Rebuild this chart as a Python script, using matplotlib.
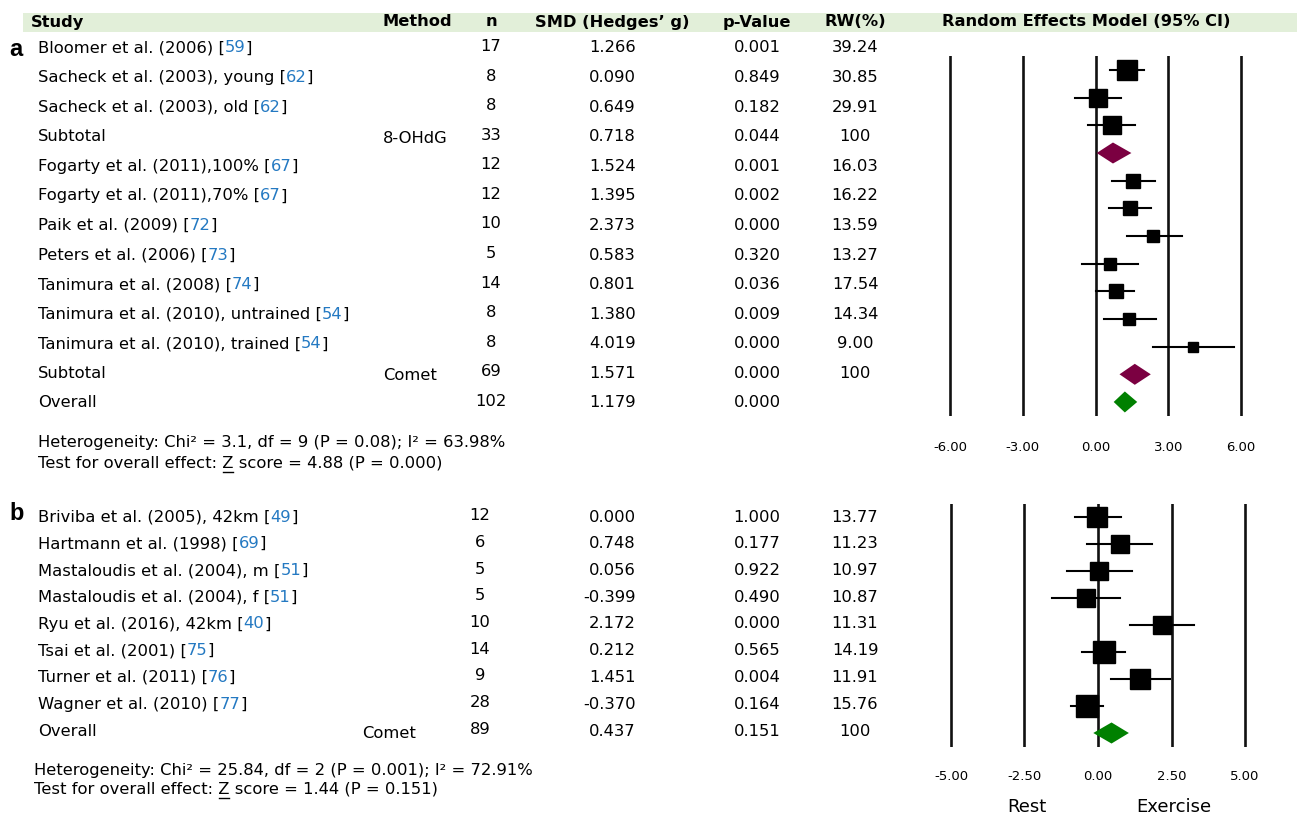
import matplotlib
matplotlib.use("Agg")
import matplotlib.pyplot as plt
from matplotlib.patches import Polygon
import numpy as np

W, H, DPI = 1297, 816, 100

# ---- panel a: 8-OHdG and Comet ----
studies_a = ["Bloomer et al. (2006)", "Sacheck et al. (2003), young", "Sacheck et al. (2003), old",
             "Subtotal", "Fogarty et al. (2011),100%", "Fogarty et al. (2011),70%", "Paik et al. (2009)",
             "Peters et al. (2006)", "Tanimura et al. (2008)", "Tanimura et al. (2010), untrained",
             "Tanimura et al. (2010), trained", "Subtotal", "Overall"]
refs_a = ["59", "62", "62", None, "67", "67", "72", "73", "74", "54", "54", None, None]
method_a = ["", "", "", "8-OHdG", "", "", "", "", "", "", "", "Comet", ""]
n_a = [17, 8, 8, 33, 12, 12, 10, 5, 14, 8, 8, 69, 102]
smd_a = ["1.266", "0.090", "0.649", "0.718", "1.524", "1.395", "2.373", "0.583", "0.801",
         "1.380", "4.019", "1.571", "1.179"]
p_a = ["0.001", "0.849", "0.182", "0.044", "0.001", "0.002", "0.000", "0.320", "0.036",
       "0.009", "0.000", "0.000", "0.000"]
rw_a = ["39.24", "30.85", "29.91", "100", "16.03", "16.22", "13.59", "13.27", "17.54",
        "14.34", "9.00", "100", ""]
kind_a = ["s", "s", "s", "sub", "s", "s", "s", "s", "s", "s", "s", "sub", "all"]
# estimates and 95% CI as drawn in the forest plot
est_a = [1.29, 0.11, 0.67, 0.72, 1.55, 1.41, 2.39, 0.60, 0.84, 1.40, 4.04, 1.62, 1.21]
lo_a = [0.59, -0.84, -0.30, 0.05, 0.66, 0.55, 1.28, -0.56, 0.04, 0.36, 2.36, 0.99, 0.75]
hi_a = [2.00, 1.04, 1.63, 1.48, 2.45, 2.29, 3.55, 1.76, 1.58, 2.48, 5.73, 2.28, 1.72]
ticks_a = [-6, -3, 0, 3, 6]
het_a = ["Heterogeneity: Chi² = 3.1, df = 9 (P = 0.08); I² = 63.98%",
         "Test for overall effect: Z score = 4.88 (P = 0.000)"]

# ---- panel b: Comet ----
studies_b = ["Briviba et al. (2005), 42km", "Hartmann et al. (1998)", "Mastaloudis et al. (2004), m",
             "Mastaloudis et al. (2004), f", "Ryu et al. (2016), 42km", "Tsai et al. (2001)",
             "Turner et al. (2011)", "Wagner et al. (2010)", "Overall"]
refs_b = ["49", "69", "51", "51", "40", "75", "76", "77", None]
method_b = ["", "", "", "", "", "", "", "", "Comet"]
n_b = [12, 6, 5, 5, 10, 14, 9, 28, 89]
smd_b = ["0.000", "0.748", "0.056", "-0.399", "2.172", "0.212", "1.451", "-0.370", "0.437"]
p_b = ["1.000", "0.177", "0.922", "0.490", "0.000", "0.565", "0.004", "0.164", "0.151"]
rw_b = ["13.77", "11.23", "10.97", "10.87", "11.31", "14.19", "11.91", "15.76", "100"]
kind_b = ["s"] * 8 + ["all"]
est_b = [-0.02, 0.74, 0.05, -0.42, 2.17, 0.19, 1.44, -0.37, 0.46]
lo_b = [-0.79, -0.36, -1.07, -1.55, 1.08, -0.53, 0.43, -0.92, -0.16]
hi_b = [0.77, 1.83, 1.16, 0.74, 3.26, 0.93, 2.44, 0.16, 1.05]
ticks_b = [-5, -2.5, 0, 2.5, 5]
het_b = ["Heterogeneity: Chi² = 25.84, df = 2 (P = 0.001); I² = 72.91%",
         "Test for overall effect: Z score = 1.44 (P = 0.151)"]

headers = ["Study", "Method", "n", "SMD (Hedges\u2019 g)", "p-Value", "RW(%)", "Random Effects Model (95% CI)"]

REF_BLUE = "#2479c2"
SUB_COL = "#7b0041"
ALL_COL = "#008000"
FS = 11.8

plt.rcParams["font.family"] = ["DejaVu Sans"]
fig = plt.figure(figsize=(W / DPI, H / DPI), dpi=DPI)
bg = fig.add_axes([0, 0, 1, 1])
bg.set_xlim(0, W)
bg.set_ylim(H, 0)
bg.axis("off")
renderer = fig.canvas.get_renderer()


def text_width(s):
    t = bg.text(0, 0, s, fontsize=FS)
    w = t.get_window_extent(renderer).width
    t.remove()
    return w


def study_label(x, y, name, ref):
    if ref is None:
        bg.text(x, y, name, fontsize=FS, va="center")
        return
    # reference number in blue, brackets in black
    bg.text(x, y, name + " [", fontsize=FS, va="center")
    bg.text(x + text_width(name + " ["), y, ref, fontsize=FS, va="center", color=REF_BLUE)
    bg.text(x + text_width(name + " [" + ref), y, "]", fontsize=FS, va="center")


def het_lines(x, y1, y2, lines):
    bg.text(x, y1, lines[0], fontsize=FS, va="center")
    bg.text(x, y2, lines[1], fontsize=FS, va="center")
    pre = lines[1].split("Z")[0]
    x0 = x + text_width(pre + "Z") - text_width("Z")
    bg.plot([x0 + 0.5, x0 + text_width("Z") - 0.5], [y2 + 9, y2 + 9], color="black", lw=1.0)


def table(y0, dy, studies, refs, method, n, smd, p, rw, x_method, x_n, x_study):
    for i in range(len(studies)):
        y = y0 + dy * i
        study_label(x_study, y, studies[i], refs[i])
        if method[i]:
            bg.text(x_method, y + 2, method[i], fontsize=FS, va="center")
        bg.text(x_n, y - 1.5, str(n[i]), fontsize=FS, va="center", ha="center")
        bg.text(636, y, smd[i], fontsize=FS, va="center", ha="right")
        bg.text(757, y, p[i], fontsize=FS, va="center", ha="center")
        bg.text(855, y, rw[i], fontsize=FS, va="center", ha="center")


def forest(px, py, xl, est, lo, hi, rw, kind, ticks, k, hfrac, pad):
    ax = fig.add_axes([px[0] / W, 1 - py[1] / H, (px[1] - px[0]) / W, (py[1] - py[0]) / H])
    nrow = len(est)
    ax.set_xlim(-xl, xl)
    ax.set_ylim(nrow - 0.5, -0.5)
    ax.patch.set_alpha(0)
    for s in ax.spines.values():
        s.set_visible(False)
    for t in ticks:
        ax.axvline(t, color="#111111", lw=1.9, zorder=1)
    ax.set_yticks([])
    ax.set_xticks(ticks)
    ax.set_xticklabels(["%.2f" % t for t in ticks], fontsize=9.5)
    ax.tick_params(axis="x", length=0, pad=pad)
    for i in range(nrow):
        if kind[i] == "s":
            ax.plot([lo[i], hi[i]], [i, i], color="black", lw=1.5, zorder=2)
            side = k * np.sqrt(float(rw[i])) * 0.72
            ax.plot(est[i], i, marker="s", ms=side, color="black", mec="black", zorder=3)
        else:
            col = SUB_COL if kind[i] == "sub" else ALL_COL
            ax.add_patch(Polygon([(lo[i], i), (est[i], i - hfrac), (hi[i], i), (est[i], i + hfrac)],
                                 closed=True, color=col, lw=0, zorder=3))
    return ax


# header bar
bg.add_patch(plt.Rectangle((23, 13), W - 23, 19, color="#e2efd9", lw=0, zorder=0))
hx = [31, 382, 491, 612, 757, 855, 1086]
ha = ["left", "left", "center", "center", "center", "center", "center"]
for h, x, a in zip(headers, hx, ha):
    bg.text(x, 22, h, fontsize=11.7, fontweight="bold", va="center", ha=a)

# panel labels
bg.text(9, 50, "a", fontsize=17, fontweight="bold", va="center", family=["Liberation Sans", "DejaVu Sans"])
bg.text(9, 514, "b", fontsize=17, fontweight="bold", va="center", family=["Liberation Sans", "DejaVu Sans"])

table(48, 29.58, studies_a, refs_a, method_a, n_a, smd_a, p_a, rw_a, 383, 491, 38)
table(517, 26.75, studies_b, refs_b, method_b, n_b, smd_b, p_b, rw_b, 362, 480, 38)
het_lines(38, 442, 463, het_a)
het_lines(34, 770, 789, het_b)

forest((940, 1251), (56.2, 415.8), 6.412, est_a, lo_a, hi_a, rw_a, kind_a, ticks_a, 3.35, 0.38, 18)
forest((941, 1255), (503.5, 746.5), 5.34, est_b, lo_b, hi_b, rw_b, kind_b, ticks_b, 5.6, 0.39, 17)

bg.text(1027, 807, "Rest", fontsize=13, va="center", ha="center")
bg.text(1174, 807, "Exercise", fontsize=13, va="center", ha="center")

fig.savefig("out.png", dpi=DPI)
